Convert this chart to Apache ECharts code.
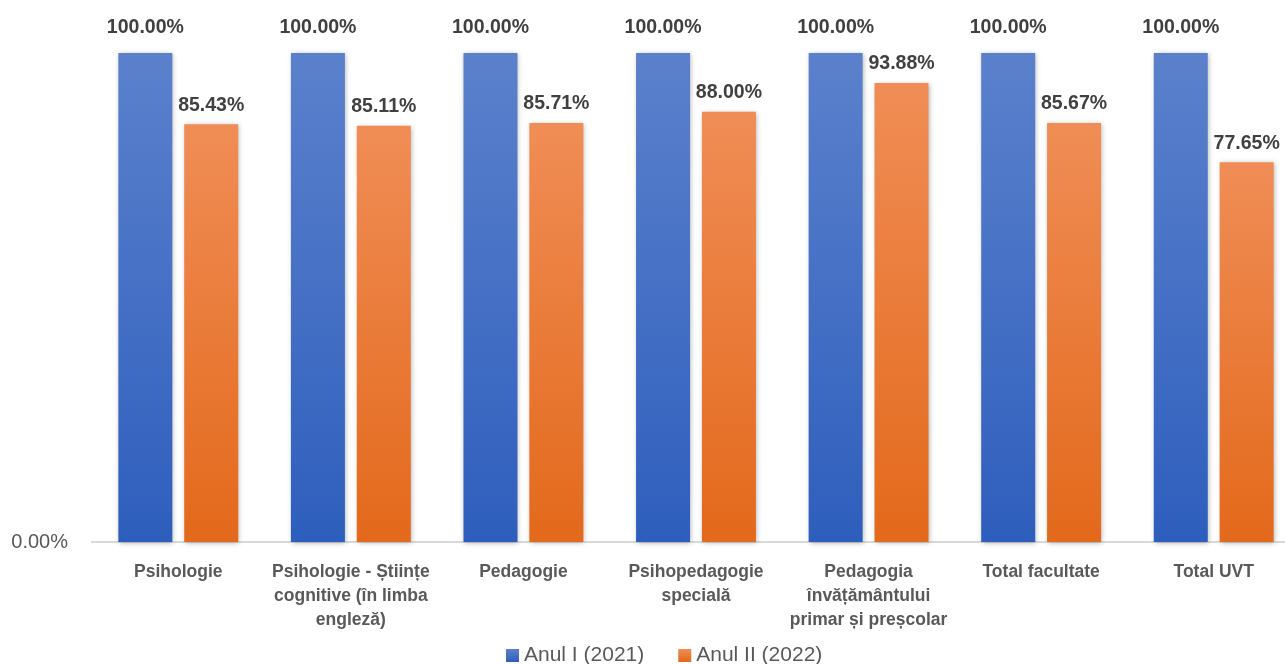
<!DOCTYPE html>
<html><head><meta charset="utf-8">
<script src="https://cdn.jsdelivr.net/npm/echarts@6/dist/echarts.min.js"></script>
<style>html,body{margin:0;padding:0;background:#fff;overflow:hidden}#c{width:1300px;height:664px}</style>
</head><body><div id="c"></div>
<script>
const categories = ["Psihologie","Psihologie - Științe\ncognitive (în limba\nengleză)","Pedagogie","Psihopedagogie\nspecială","Pedagogia\nînvățământului\nprimar și preșcolar","Total facultate","Total UVT"];
const seriesNames = ["Anul I (2021)","Anul II (2022)"];
const anul1 = [100,100,100,100,100,100,100];
const anul2 = [85.43,85.11,85.71,88.00,93.88,85.67,77.65];
const yTicks = [0];

const font = "Liberation Sans, Arial, sans-serif";
function grad(top, bot){return new echarts.graphic.LinearGradient(0,0,0,1,[{offset:0,color:top},{offset:1,color:bot}]);}
const chart = echarts.init(document.getElementById('c'));
function lbl(d){return {show:true,position:'top',distance:d,formatter:p=>p.value.toFixed(2)+'%',fontFamily:font,fontWeight:'bold',fontSize:19.5,color:'#404040'};}
chart.setOption({
  animation:false,
  grid:{left:92,right:0,top:53,bottom:122,containLabel:false},
  legend:{top:640,left:501,itemWidth:13,itemHeight:13,itemGap:34,icon:'rect',
    textStyle:{fontFamily:font,fontSize:21,color:'#595959'},data:seriesNames},
  xAxis:{type:'category',data:categories,
    axisLine:{lineStyle:{color:'#d9d9d9',width:2}},axisTick:{show:false},
    axisLabel:{interval:0,margin:18,fontFamily:font,fontWeight:'bold',fontSize:17.5,color:'#595959',lineHeight:24}},
  yAxis:{type:'value',min:0,max:100,interval:100,splitLine:{show:false},
    axisLabel:{formatter:v=>yTicks.includes(v)?v.toFixed(2)+'%':'',fontFamily:font,fontSize:20,color:'#595959',margin:24}},
  series:[
    {name:seriesNames[0],type:'bar',data:anul1,barWidth:54,barGap:'22%',
     itemStyle:{color:grad('#5B81CC','#2E5EBD'),shadowBlur:5,shadowColor:'rgba(0,0,0,0.3)',shadowOffsetX:1,shadowOffsetY:1},label:lbl(15)},
    {name:seriesNames[1],type:'bar',data:anul2,barWidth:54,
     itemStyle:{color:grad('#F08D56','#E3691B'),shadowBlur:5,shadowColor:'rgba(0,0,0,0.3)',shadowOffsetX:1,shadowOffsetY:1},label:lbl(9)}
  ]
});
</script></body></html>
